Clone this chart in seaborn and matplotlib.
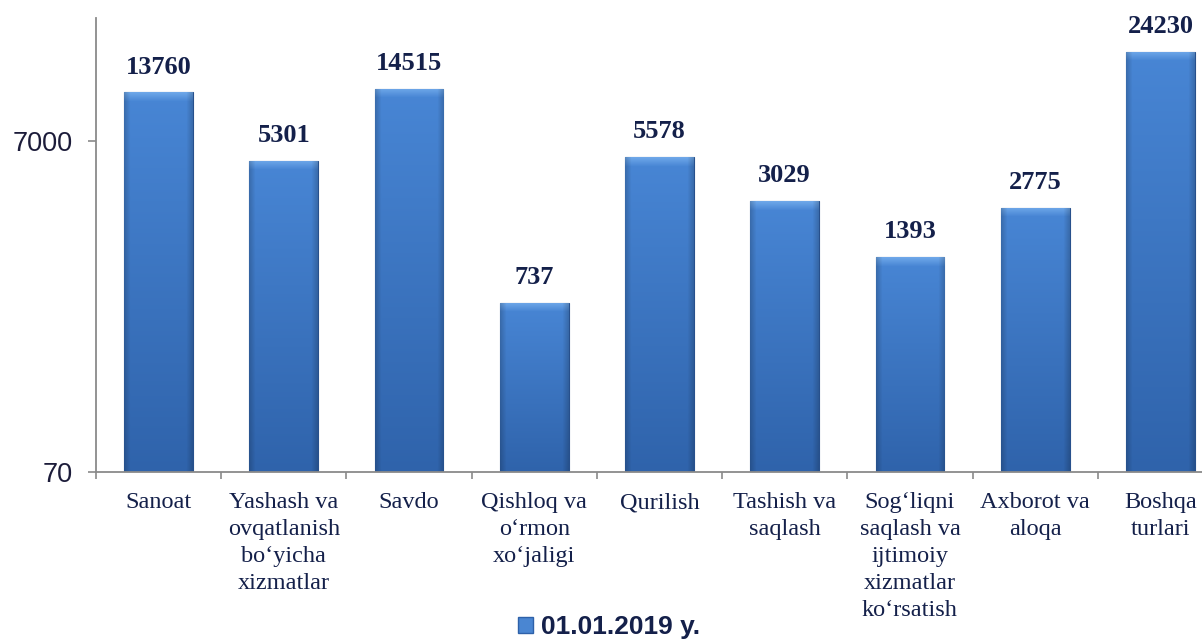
import numpy as np
import matplotlib
matplotlib.use("Agg")
import matplotlib.pyplot as plt
import matplotlib.colors as mcolors
from matplotlib.patches import Patch
import seaborn as sns

# data
categories = [
    "Sanoat",
    "Yashash va\novqatlanish\nbo‘yicha\nxizmatlar",
    "Savdo",
    "Qishloq va\no‘rmon\nxo‘jaligi",
    "Qurilish",
    "Tashish va\nsaqlash",
    "Sog‘liqni\nsaqlash va\nijtimoiy\nxizmatlar\nko‘rsatish",
    "Axborot va\naloqa",
    "Boshqa\nturlari",
]
values = [13760, 5301, 14515, 737, 5578, 3029, 1393, 2775, 24230]
series_name = "01.01.2019 y."
y_ticks = [70, 7000]

navy = "#14204a"
top_col = np.array(mcolors.to_rgb("#4886d5"))
bot_col = np.array(mcolors.to_rgb("#2f63ab"))
bevel_col = np.array(mcolors.to_rgb("#78b0ee"))

sns.set_style("white")
W, H = 1202, 639
fig = plt.figure(figsize=(W / 100, H / 100), dpi=100)
ax = fig.add_axes([96 / W, 1 - 472 / H, 1127 / W, (472 - 18) / H])

sns.barplot(x=list(range(len(values))), y=values, color=bot_col, width=0.55,
            edgecolor="#27508c", linewidth=0.8, ax=ax, native_scale=True)
ax.set_yscale("log")
ax.set_ylim(70, 38750)
ax.set_xlim(-0.5, len(values) - 0.5)

# y axis
ax.yaxis.set_major_locator(matplotlib.ticker.FixedLocator(y_ticks))
ax.yaxis.set_minor_locator(matplotlib.ticker.NullLocator())
ax.set_yticklabels([str(v) for v in y_ticks], fontsize=19.5, color="#1c1c3a",
                   family="Liberation Sans")
ax.tick_params(axis="y", which="major", left=True, length=6, width=1.2,
               color="#8a8a8a", pad=11)

# x axis: tick marks between categories, labels drawn as text at centres
ax.set_xticks(np.arange(-0.5, len(values)), [""] * (len(values) + 1))
ax.tick_params(axis="x", which="major", bottom=True, length=5, width=1.2, color="#8a8a8a")
xform = matplotlib.transforms.blended_transform_factory(ax.transData, fig.transFigure)
for i, name in enumerate(categories):
    ax.text(i, 1 - 492 / H, name, transform=xform, ha="center", va="top",
            family="Liberation Serif", fontsize=17.5, color=navy, linespacing=1.37)

for s in ["top", "right"]:
    ax.spines[s].set_visible(False)
for s in ["left", "bottom"]:
    ax.spines[s].set_color("#8a8a8a")
    ax.spines[s].set_linewidth(1.3)
ax.set_xlabel("")
ax.set_ylabel("")

# value labels
ax.bar_label(ax.containers[0], labels=[str(v) for v in values], padding=10,
             fontsize=19, fontweight="bold", color=navy, family="Liberation Serif")

# gradient fill for the bars
to_axes = ax.transData + ax.transAxes.inverted()
for p in ax.patches:
    x0, w, h = p.get_x(), p.get_width(), p.get_height()
    (ax0, ay0), (ax1, ay1) = to_axes.transform([(x0, 70), (x0 + w, h)])
    px = ax.transData.transform([(x0, 70), (x0 + w, h)])
    ph = int(abs(px[1, 1] - px[0, 1]))
    pw = int(abs(px[1, 0] - px[0, 0]))
    t = np.linspace(0, 1, ph)[:, None]
    col = top_col * (1 - t) + bot_col * t
    rows = np.arange(ph)[:, None]
    bev = np.clip(1 - rows / 9.0, 0, 1) * 0.8
    col = col * (1 - bev) + bevel_col * bev
    cols = np.arange(pw)
    edge = np.clip(1 - np.minimum(cols, pw - 1 - cols) / 6.0, 0, 1) * 0.18
    img = col[:, None, :] * (1 - edge[None, :, None])
    im = ax.imshow(img, extent=[ax0, ax1, ay0, ay1], transform=ax.transAxes,
                   aspect="auto", zorder=p.get_zorder() + 0.1, interpolation="bilinear")
    im.set_clip_path(p)

ax.set_ylim(70, 38750)
ax.set_xlim(-0.5, len(values) - 0.5)

handle = Patch(facecolor="#4a86d2", edgecolor="#2e61a9", label=series_name)
fig.legend(handles=[handle], loc="center", bbox_to_anchor=(609 / W, 1 - 627 / H),
           frameon=False, handlelength=0.55, handleheight=0.55, handletextpad=0.3,
           prop={"family": "Liberation Sans", "weight": "bold", "size": 19},
           labelcolor=navy)

fig.savefig("out.png", dpi=100)
